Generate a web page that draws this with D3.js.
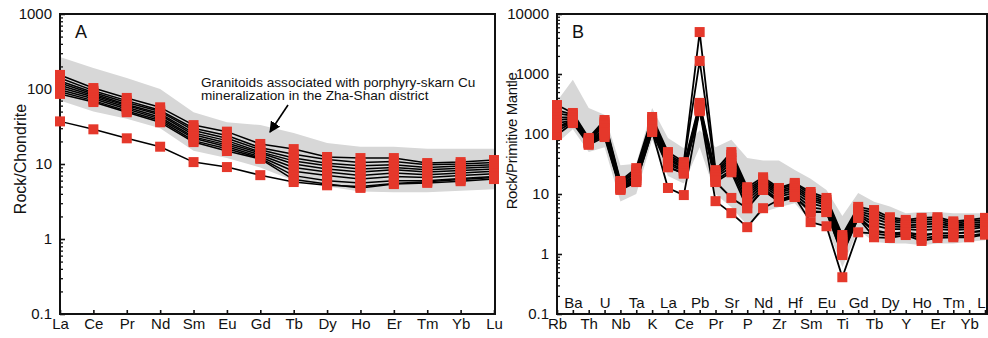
<!DOCTYPE html>
<html>
<head>
<meta charset="utf-8">
<script src="https://cdn.jsdelivr.net/npm/d3@7"></script>
<style>
  html, body { margin: 0; padding: 0; background: #fff; }
  svg { display: block; }
  text { font-family: Arial, "Liberation Sans", sans-serif; fill: #111; }
</style>
</head>
<body>
<svg id="chart" width="988" height="338"></svg>
<script>
// ---------------- Panel A data (chondrite-normalised REE) ----------------
const elementsA = ["La","Ce","Pr","Nd","Sm","Eu","Gd","Tb","Dy","Ho","Er","Tm","Yb","Lu"];
const yTicksA = [0.1, 1, 10, 100, 1000];
const fieldUpperA = [267, 190, 140, 100, 49, 36, 33, 26, 19, 17, 17, 16, 16, 16];
const fieldLowerA = [70, 50, 40, 30, 15, 12, 9, 6, 5, 4.3, 4.2, 4.2, 4.4, 4.6];
const sampleA1  = [154, 103, 76, 57, 33, 27, 18.5, 15.8, 12.4, 12, 12, 10.3, 10.6, 11.3];
const sampleA2  = [140, 95, 70, 52, 30, 24, 16.5, 13.5, 11.5, 10.5, 10.8, 9.8, 10, 10.5];
const sampleA3  = [128, 90, 66, 50, 28, 22, 15.5, 12, 10.2, 9.5, 9.8, 9, 9.4, 9.8];
const sampleA4  = [120, 86, 62, 47, 26, 20.5, 14.5, 11, 9.5, 8.6, 9, 8.4, 8.8, 9.2];
const sampleA5  = [112, 82, 60, 45, 24.5, 19, 14, 10, 8.6, 7.8, 8.4, 7.8, 8.2, 8.6];
const sampleA6  = [105, 78, 57, 42, 23, 18, 13.2, 9, 7.8, 7, 7.6, 7.2, 7.6, 8];
const sampleA7  = [98, 74, 54, 40, 22, 17, 12.5, 8, 7, 6.3, 6.8, 6.6, 7, 7.4];
const sampleA8  = [92, 70, 51, 38, 20.5, 16, 12, 7, 6, 5.6, 6, 6, 6.4, 6.8];
const sampleA9  = [86, 67, 49, 36, 19.6, 14.9, 11.7, 6.2, 5.4, 4.8, 5.4, 5.6, 5.9, 6.3];
const sampleA10 = [37, 29, 22, 17, 10.6, 9.1, 7.1, 5.75, 5.2, 5.0, 5.5, 5.8, 6.2, 6.6];
const samplesA = [sampleA1, sampleA2, sampleA3, sampleA4, sampleA5, sampleA6, sampleA7, sampleA8, sampleA9, sampleA10];

// ---------------- Panel B data (primitive-mantle-normalised spider) ----------------
const elementsB = ["Rb","Ba","Th","U","Nb","Ta","K","La","Ce","Pb","Pr","Sr","P","Nd","Zr","Hf","Sm","Eu","Ti","Gd","Tb","Dy","Y","Ho","Er","Tm","Yb","Lu"];
const yTicksB = [0.1, 1, 10, 100, 1000, 10000];
const fieldUpperB = [350, 800, 270, 210, 30, 32, 270, 86, 58, 116, 60, 80, 40, 36, 36, 25, 18, 11.7, 4.3, 10.4, 7.4, 6.2, 4.8, 5, 5, 4.8, 4.8, 4.8];
const fieldLowerB = [70, 120, 50, 60, 7.5, 10, 80, 20, 15, 60, 10, 6, 3, 5, 6, 7, 3.5, 3, 0.6, 2.5, 1.6, 1.5, 1.5, 1.4, 1.5, 1.5, 1.6, 1.7];
const sampleB1  = [304, 224, 86, 171, 16.5, 27, 192, 50, 34, 5000, 25, 50, 13, 19, 12.6, 15.3, 10.8, 8.6, 2.07, 6.1, 5.4, 4.1, 3.7, 4, 4.1, 3.5, 3.7, 4];
const sampleB2  = [250, 210, 82, 160, 15.5, 25, 175, 46, 32, 1650, 23, 45, 12, 17.5, 12, 14.5, 10, 8, 1.9, 5.6, 4.9, 3.8, 3.5, 3.7, 3.8, 3.3, 3.5, 3.7];
const sampleB3  = [220, 200, 80, 150, 15, 23, 165, 43, 30, 330, 22, 40, 11, 16.5, 11.2, 13.5, 9.2, 7.4, 1.75, 5.2, 4.4, 3.5, 3.3, 3.4, 3.5, 3.1, 3.2, 3.5];
const sampleB4  = [190, 190, 77, 140, 14.2, 21, 150, 40, 28, 300, 21, 36, 10, 15.5, 10.5, 12.5, 8.5, 7, 1.6, 4.9, 3.9, 3.2, 3.0, 3.1, 3.2, 2.9, 3.0, 3.2];
const sampleB5  = [170, 180, 74, 125, 13.5, 20, 140, 37, 27, 280, 20, 32, 9, 14.5, 9.8, 11.5, 7.8, 6.5, 1.45, 4.6, 3.4, 2.9, 2.8, 2.8, 2.9, 2.7, 2.8, 3.0];
const sampleB6  = [150, 170, 72, 115, 13, 18.5, 130, 34, 25, 260, 19, 28, 8, 13.5, 9, 10.5, 7, 6, 1.3, 4.4, 3, 2.6, 2.6, 2.5, 2.6, 2.5, 2.6, 2.8];
const sampleB7  = [125, 162, 69, 100, 12.5, 17, 118, 31, 24, 250, 17, 25, 7, 12.5, 8, 9.8, 6, 5.5, 1.15, 4.2, 2.5, 2.2, 2.3, 2.1, 2.2, 2.2, 2.3, 2.5];
const sampleB8  = [96, 152, 66, 89, 11.7, 15.8, 108, 28, 22, 240, 15.8, 23, 5.8, 11.7, 7.4, 8.9, 5, 5, 0.96, 4, 1.9, 1.85, 2.07, 1.65, 1.85, 1.9, 1.9, 2.1];
const sampleB9  = [110, 160, 70, 95, 12, 16, 110, 12.6, 9.6, 250, 7.6, 4.8, 2.8, 5.8, 8, 9, 3.4, 2.9, 0.41, 2.3, 2.2, 2, 2.2, 1.8, 2, 2, 2, 2.2];
const sampleB10 = [130, 170, 72, 105, 12.5, 17, 120, 28, 22, 270, 16, 8.6, 5.8, 11.7, 7.6, 9, 5.2, 5, 1.0, 4, 2.4, 2.2, 2.3, 2, 2.2, 2.2, 2.3, 2.4];
const samplesB = [sampleB1, sampleB2, sampleB3, sampleB4, sampleB5, sampleB6, sampleB7, sampleB8, sampleB9, sampleB10];

// ---------------- drawing ----------------
const RED = "#e5382b", GRAY = "#d7d7d7";
const svg = d3.select("#chart");

function minorTicks(domain) {
  const out = [];
  const lo = Math.round(Math.log10(domain[0])), hi = Math.round(Math.log10(domain[1]));
  for (let e = lo; e < hi; e++) for (let m = 2; m <= 9; m++) out.push(m * Math.pow(10, e));
  return out;
}

function panel(cfg) {
  const g = svg.append("g");
  const x = d3.scalePoint().domain(cfg.elements).range([cfg.x0, cfg.x1]);
  const y = d3.scaleLog().domain(cfg.yDomain).range([cfg.y1, cfg.y0]);

  // field
  const area = d3.area()
    .x((d, i) => x(cfg.elements[i]))
    .y0((d, i) => y(cfg.lower[i]))
    .y1(d => y(d));
  g.append("path").datum(cfg.upper).attr("d", area).attr("fill", GRAY);

  // frame
  g.append("rect").attr("x", cfg.x0).attr("y", cfg.y0)
    .attr("width", cfg.frameRight - cfg.x0).attr("height", cfg.y1 - cfg.y0)
    .attr("fill", "none").attr("stroke", "#111").attr("stroke-width", 2);

  // y axis majors
  const yAxis = d3.axisLeft(y).tickValues(cfg.yTicks).tickSize(-5).tickPadding(8)
    .tickFormat(d => d < 1 ? String(d) : d3.format("d")(d));
  const ya = g.append("g").attr("transform", `translate(${cfg.x0},0)`).call(yAxis);
  ya.select(".domain").remove();
  ya.selectAll("line").attr("stroke", "#111").attr("stroke-width", 1.6);
  ya.selectAll("text").attr("font-size", 15).style("font-family", "Arial, 'Liberation Sans', sans-serif").attr("fill", "#111");
  // y axis minors
  const ym = g.append("g").attr("transform", `translate(${cfg.x0},0)`)
    .call(d3.axisLeft(y).tickValues(minorTicks(cfg.yDomain)).tickSize(-3).tickFormat(""));
  ym.select(".domain").remove();
  ym.selectAll("line").attr("stroke", "#111").attr("stroke-width", 1.3);

  // x axis
  const xa = g.append("g").attr("transform", `translate(0,${cfg.y1})`)
    .call(d3.axisBottom(x).tickSize(-4).tickPadding(4));
  xa.select(".domain").remove();
  xa.selectAll("line").attr("stroke", "#111").attr("stroke-width", 1.6);
  xa.selectAll("text").attr("font-size", 15).style("font-family", "Arial, 'Liberation Sans', sans-serif").attr("fill", "#111");
  if (cfg.alternate) {
    xa.selectAll(".tick").filter((d, i) => i % 2 === 1).select("text")
      .attr("y", -17);
  }

  // sample lines
  const line = d3.line().x((d, i) => x(cfg.elements[i])).y(d => y(d));
  g.append("g").selectAll("path").data(cfg.samples).join("path")
    .attr("d", line).attr("fill", "none").attr("stroke", "#000")
    .attr("stroke-width", cfg.lineWidth).attr("stroke-linejoin", "round");

  // squares
  const pts = [];
  cfg.samples.forEach(s => s.forEach((v, i) => pts.push({ e: cfg.elements[i], v })));
  g.append("g").selectAll("rect").data(pts).join("rect")
    .attr("x", d => x(d.e) - 5).attr("y", d => y(d.v) - 5)
    .attr("width", 10).attr("height", 10).attr("fill", RED);

  // panel letter
  g.append("text").attr("x", cfg.x0 + 15).attr("y", cfg.y0 + 24)
    .attr("font-size", 18).text(cfg.letter);

  // y label
  g.append("text")
    .attr("transform", `translate(${cfg.ylabelX},${cfg.ylabelY}) rotate(-90)`)
    .attr("text-anchor", "middle").attr("font-size", cfg.ylabelSize)
    .attr("letter-spacing", cfg.ylabelSpacing)
    .text(cfg.ylabel);

  return { x, y, g };
}

const A = panel({
  elements: elementsA, yDomain: [0.1, 1000], yTicks: yTicksA,
  x0: 60, x1: 494, frameRight: 495, y0: 14, y1: 314,
  upper: fieldUpperA, lower: fieldLowerA, samples: samplesA,
  lineWidth: 1.5, letter: "A", ylabel: "Rock/Chondrite",
  ylabelX: 26, ylabelY: 159, ylabelSize: 16, ylabelSpacing: 0, alternate: false
});

const B = panel({
  elements: elementsB, yDomain: [0.1, 10000], yTicks: yTicksB,
  x0: 557, x1: 985, frameRight: 987, y0: 14, y1: 314,
  upper: fieldUpperB, lower: fieldLowerB, samples: samplesB,
  lineWidth: 1.8, letter: "B", ylabel: "Rock/Primitive Mantle",
  ylabelX: 517, ylabelY: 141, ylabelSize: 15, ylabelSpacing: -0.4, alternate: true
});

// annotation in panel A
A.g.append("text").attr("x", 201).attr("y", 87).attr("font-size", 13.6)
  .text("Granitoids associated with porphyry-skarn Cu");
A.g.append("text").attr("x", 201).attr("y", 100).attr("font-size", 13.6)
  .text("mineralization in the Zha-Shan district");

svg.append("defs").append("marker").attr("id", "arrow")
  .attr("viewBox", "0 0 10 10").attr("refX", 9).attr("refY", 5)
  .attr("markerWidth", 7).attr("markerHeight", 7).attr("orient", "auto")
  .append("path").attr("d", "M0,0 L10,5 L0,10 Z").attr("fill", "#000");
A.g.append("line").attr("x1", 288).attr("y1", 105).attr("x2", 270).attr("y2", 132)
  .attr("stroke", "#000").attr("stroke-width", 1.6).attr("marker-end", "url(#arrow)");
</script>
</body>
</html>
